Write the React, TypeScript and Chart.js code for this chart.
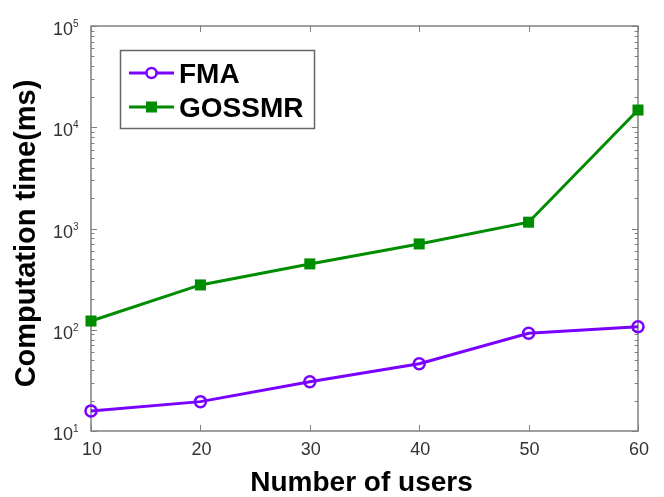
import React, { useEffect, useRef } from "react";
import { Chart, registerables } from "chart.js";

Chart.register(...registerables);

const users = [10, 20, 30, 40, 50, 60];
const fmaTimes = [15.8, 19.5, 30.7, 46.2, 92.3, 107];
const gossmrTimes = [122, 277, 447, 704, 1154, 14800];
const xTickValues = [10, 20, 30, 40, 50, 60];
const yTickExponents = [1, 2, 3, 4, 5];
const seriesNames = ["FMA", "GOSSMR"];
const seriesColors = ["#7a00ff", "#008c00"];
const xTitle = "Number of users";
const yTitle = "Computation time(ms)";

const FONT = "'Liberation Sans', Arial, sans-serif";

const axesPlugin = {
  id: "matlabAxes",
  beforeDatasetsDraw(chart: any) {
    const { ctx, chartArea } = chart;
    const { left, right, top, bottom } = chartArea;
    const xs = chart.scales.x;
    const ys = chart.scales.y;
    ctx.save();
    ctx.strokeStyle = "#808080";
    ctx.lineWidth = 1.5;
    ctx.strokeRect(left, top, right - left, bottom - top);
    ctx.lineWidth = 1;
    ctx.beginPath();
    xTickValues.forEach((v) => {
      const px = Math.round(xs.getPixelForValue(v)) + 0.5;
      ctx.moveTo(px, bottom);
      ctx.lineTo(px, bottom - 6);
      ctx.moveTo(px, top);
      ctx.lineTo(px, top + 6);
    });
    for (let e = yTickExponents[0]; e <= yTickExponents[yTickExponents.length - 1]; e++) {
      const py = Math.round(ys.getPixelForValue(Math.pow(10, e))) + 0.5;
      ctx.moveTo(left, py);
      ctx.lineTo(left + 6, py);
      ctx.moveTo(right, py);
      ctx.lineTo(right - 6, py);
      if (e < yTickExponents[yTickExponents.length - 1]) {
        for (let m = 2; m <= 9; m++) {
          const my = Math.round(ys.getPixelForValue(m * Math.pow(10, e))) + 0.5;
          ctx.moveTo(left, my);
          ctx.lineTo(left + 3.5, my);
          ctx.moveTo(right, my);
          ctx.lineTo(right - 3.5, my);
        }
      }
    }
    ctx.stroke();
    ctx.restore();
  },
  afterDraw(chart: any) {
    const { ctx, chartArea } = chart;
    const { left, right, top, bottom } = chartArea;
    const xs = chart.scales.x;
    const ys = chart.scales.y;
    ctx.save();
    ctx.fillStyle = "#333";
    ctx.font = `18px ${FONT}`;
    ctx.textAlign = "center";
    ctx.textBaseline = "alphabetic";
    xTickValues.forEach((v) => {
      ctx.fillText(String(v), xs.getPixelForValue(v) + 1, bottom + 24);
    });
    yTickExponents.forEach((e) => {
      const py = ys.getPixelForValue(Math.pow(10, e));
      ctx.font = `18px ${FONT}`;
      ctx.textAlign = "right";
      ctx.fillText("10", left - 18, py + 9);
      ctx.font = `10px ${FONT}`;
      ctx.textAlign = "left";
      ctx.fillText(String(e), left - 18, py + 1);
    });
    ctx.fillStyle = "#000";
    ctx.font = `bold 28px ${FONT}`;
    ctx.textAlign = "center";
    ctx.fillText(xTitle, (left + right) / 2 - 3, bottom + 60);
    ctx.save();
    ctx.translate(left - 56, (top + bottom) / 2 + 5);
    ctx.rotate(-Math.PI / 2);
    ctx.font = `bold 29px ${FONT}`;
    ctx.fillText(yTitle, 0, 0);
    ctx.restore();

    const bx = 120.5, by = 50.5, bw = 194, bh = 78;
    ctx.fillStyle = "#fff";
    ctx.fillRect(bx, by, bw, bh);
    ctx.strokeStyle = "#666";
    ctx.lineWidth = 1.5;
    ctx.strokeRect(bx, by, bw, bh);
    const rows = [73, 107];
    seriesNames.forEach((name, i) => {
      const y = rows[i];
      const color = seriesColors[i];
      ctx.strokeStyle = color;
      ctx.lineWidth = 3;
      ctx.beginPath();
      ctx.moveTo(129, y);
      ctx.lineTo(174, y);
      ctx.stroke();
      if (i === 0) {
        ctx.lineWidth = 2.5;
        ctx.fillStyle = "#fff";
        ctx.beginPath();
        ctx.arc(151.5, y, 5, 0, Math.PI * 2);
        ctx.fill();
        ctx.stroke();
      } else {
        ctx.fillStyle = color;
        ctx.fillRect(151.5 - 5.5, y - 5.5, 11, 11);
      }
      ctx.fillStyle = "#000";
      ctx.font = `bold 28px ${FONT}`;
      ctx.textAlign = "left";
      ctx.fillText(name, 179, y + 10);
    });
    ctx.restore();
  },
};

export default function App() {
  const ref = useRef<HTMLCanvasElement | null>(null);
  useEffect(() => {
    document.body.style.margin = "0";
    if (!ref.current) return;
    const chart = new Chart(ref.current, {
      type: "line",
      data: {
        datasets: [
          {
            label: seriesNames[0],
            data: users.map((u, i) => ({ x: u, y: fmaTimes[i] })),
            borderColor: seriesColors[0],
            backgroundColor: "rgba(255,255,255,0)",
            borderWidth: 3,
            pointStyle: "circle",
            pointRadius: 5.5,
            pointBorderWidth: 2.5,
            pointBackgroundColor: "rgba(255,255,255,0)",
            pointBorderColor: seriesColors[0],
            tension: 0,
            clip: false as any,
          },
          {
            label: seriesNames[1],
            data: users.map((u, i) => ({ x: u, y: gossmrTimes[i] })),
            borderColor: seriesColors[1],
            backgroundColor: seriesColors[1],
            borderWidth: 3,
            pointStyle: "rect",
            pointRadius: 7.8,
            pointBorderWidth: 0,
            pointBackgroundColor: seriesColors[1],
            pointBorderColor: seriesColors[1],
            tension: 0,
            clip: false as any,
          },
        ],
      },
      options: {
        responsive: false,
        animation: false,
        layout: { padding: { left: 91, right: 26, top: 26, bottom: 66 } },
        scales: {
          x: { type: "linear", min: 10, max: 60, display: false },
          y: { type: "logarithmic", min: 10, max: 100000, display: false },
        },
        plugins: {
          legend: { display: false },
          tooltip: { enabled: false },
        },
      },
      plugins: [axesPlugin],
    });
    return () => chart.destroy();
  }, []);
  return (
    <div style={{ width: 664, height: 497, background: "#fff" }}>
      <canvas ref={ref} width={664} height={497} style={{ width: 664, height: 497, display: "block" }} />
    </div>
  );
}
